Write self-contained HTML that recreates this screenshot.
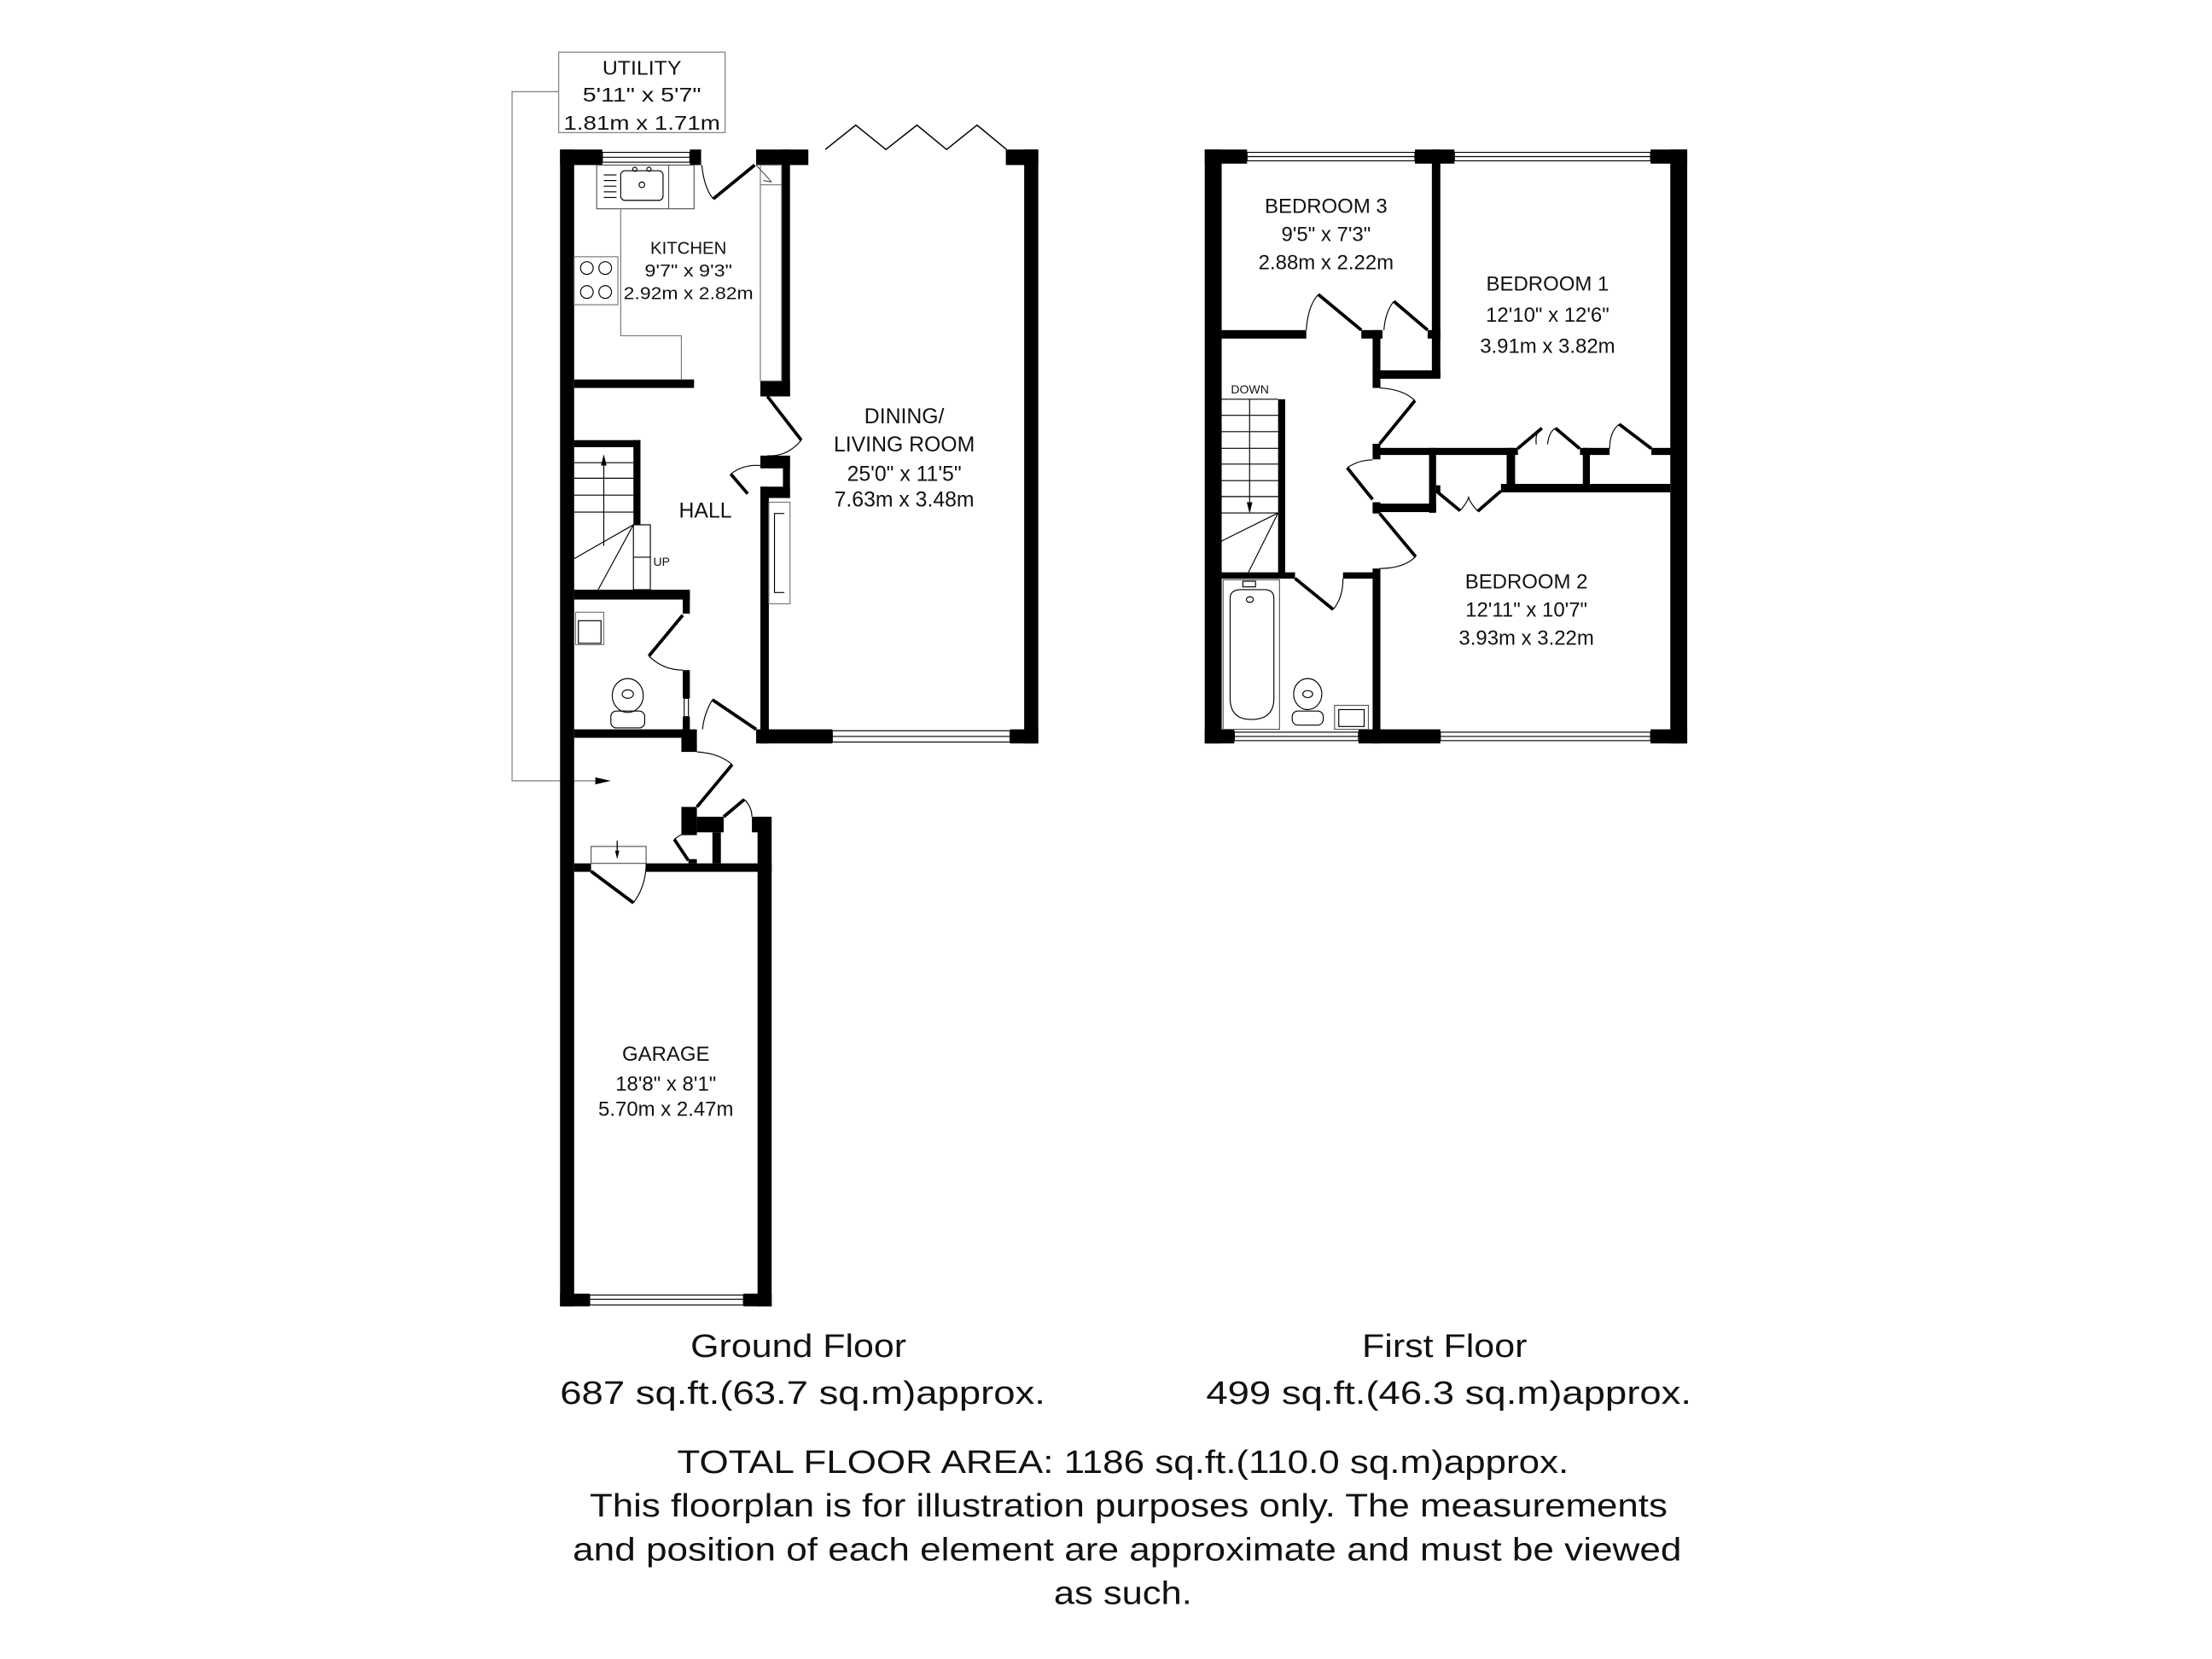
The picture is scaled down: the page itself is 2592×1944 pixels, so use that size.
<!DOCTYPE html>
<html><head><meta charset="utf-8"><style>
html,body{margin:0;padding:0;background:#fff;}
svg{display:block;}
text{font-family:"Liberation Sans",Arial,sans-serif;fill:#111;text-anchor:middle;}
.t{font-size:14px;}
.b{font-size:23px;}
</style></head><body>
<svg width="2592" height="1944" viewBox="0 0 1568 1176" xmlns="http://www.w3.org/2000/svg">
<rect width="1568" height="1176" fill="#fff"/>
<!-- ===== GROUND FLOOR ===== -->
<rect x="396" y="37" width="118" height="57" fill="none" stroke="#888" stroke-width="0.8"/>
<text class="t" x="455" y="53" textLength="56" lengthAdjust="spacingAndGlyphs">UTILITY</text>
<text class="t" x="455" y="72" textLength="84" lengthAdjust="spacingAndGlyphs">5'11" x 5'7"</text>
<text class="t" x="455" y="92" textLength="111" lengthAdjust="spacingAndGlyphs">1.81m x 1.71m</text>
<polyline points="396,65 363,65 363,553.5 425,553.5" fill="none" stroke="#888" stroke-width="0.8"/>
<polygon points="422,551 433,553.5 422,556" fill="#000"/>
<g fill="#000">
<rect x="397" y="106" width="10" height="820"/>
<rect x="397" y="106" width="30" height="11"/>
<rect x="489" y="106" width="8" height="11"/>
<rect x="536" y="106" width="37" height="11"/>
<rect x="713" y="106" width="23" height="11"/>
<rect x="726" y="106" width="10" height="421"/>
<rect x="536" y="517" width="54" height="10"/>
<rect x="716" y="517" width="20" height="10"/>
<rect x="554" y="106" width="6" height="175"/>
<rect x="539" y="270" width="21" height="11"/>
<rect x="539" y="323" width="21" height="9"/>
<rect x="555" y="323" width="5" height="30"/>
<rect x="539" y="345" width="21" height="8"/>
<rect x="539" y="323" width="5" height="8"/>
<rect x="539" y="345" width="6" height="182"/>
<rect x="407" y="269" width="85" height="6"/>
<rect x="407" y="312" width="47" height="5"/>
<rect x="449" y="312" width="5" height="60"/>
<rect x="407" y="418" width="82" height="7"/>
<rect x="484" y="418" width="5" height="17"/>
<rect x="484" y="475" width="5" height="20"/>
<rect x="484" y="508" width="5" height="10"/>
<rect x="407" y="517" width="80" height="6"/>
<rect x="483" y="517" width="11" height="16"/>
<rect x="483" y="572" width="11" height="20"/>
<rect x="494" y="579" width="19" height="11"/>
<rect x="505" y="590" width="6" height="22"/>
<rect x="533" y="579" width="13" height="11"/>
<rect x="537" y="579" width="10" height="347"/>
<rect x="488" y="609" width="6" height="3"/>
<rect x="407" y="612" width="12" height="6"/>
<rect x="458" y="612" width="89" height="6"/>
<rect x="397" y="917" width="21" height="9"/>
<rect x="527" y="917" width="20" height="9"/>
</g>
<g fill="none" stroke="#000" stroke-width="0.7">
<rect x="427" y="108" width="62" height="7"/><line x1="427" y1="111.5" x2="489" y2="111.5"/>
<rect x="590" y="518" width="126" height="8"/><line x1="590" y1="522" x2="716" y2="522"/>
<rect x="418" y="918" width="109" height="7"/><line x1="418" y1="921" x2="527" y2="921"/>
<rect x="423" y="117" width="69" height="31" stroke="#555"/>
<line x1="474" y1="117" x2="474" y2="148" stroke="#555"/>
<rect x="440" y="121" width="30" height="21" rx="3"/>
<circle cx="455" cy="131" r="2"/><circle cx="450" cy="120" r="1.5"/><circle cx="460" cy="120" r="1.5"/>
<line x1="428" y1="124" x2="437" y2="124"/><line x1="428" y1="128" x2="437" y2="128"/><line x1="428" y1="132" x2="437" y2="132"/><line x1="428" y1="136" x2="437" y2="136"/><line x1="428" y1="140" x2="437" y2="140"/>
<polyline points="440,148 440,238 483,238 483,269" stroke="#777"/>
<rect x="407" y="182" width="31" height="34" stroke="#777"/>
<circle cx="416" cy="190" r="4.5"/><circle cx="429" cy="190" r="4.5"/><circle cx="416" cy="207" r="4.5"/><circle cx="429" cy="207" r="4.5"/>
<rect x="539" y="117" width="15" height="153" stroke="#777"/>
<line x1="539" y1="131" x2="554" y2="131" stroke="#777"/>
<rect x="545" y="356" width="15" height="72" stroke="#777"/>
<polyline points="556,364 549,364 549,420 556,420" />
<line x1="407" y1="328" x2="449" y2="328"/><line x1="407" y1="339" x2="449" y2="339"/>
<line x1="407" y1="351" x2="449" y2="351"/><line x1="407" y1="363" x2="449" y2="363"/>
<rect x="449" y="372" width="12" height="46"/>
<line x1="449" y1="395" x2="461" y2="395"/>
<line x1="449" y1="372" x2="407" y2="396"/>
<line x1="449" y1="372" x2="424" y2="418"/>
<polyline points="428,387 428,330"/>
<rect x="408" y="434" width="20" height="23" stroke="#777"/>
<rect x="410" y="440" width="16" height="16"/>
<ellipse cx="445" cy="493" rx="11" ry="12"/><ellipse cx="445" cy="492" rx="4" ry="3"/>
<rect x="433" y="504" width="24" height="12" rx="4"/>
<rect x="485" y="495" width="3" height="13"/>
<rect x="419" y="600" width="39" height="12" stroke="#555"/>
<path d="M497.5,117 Q499,133 505.6,141"/>
<path d="M568,312 Q558,324 544,323"/>
<path d="M518,336 Q527,329 539,330"/>
<path d="M460,465 Q470,475 484,475"/>
<path d="M505,496 Q499,506 498,517"/>
<path d="M494,533 Q510,534 519,542"/>
<path d="M478,595 Q485,589 494,589"/>
<path d="M527.6,566.7 Q533,572 533,579"/>
<path d="M449,640 Q458,628 458,612"/>
<path d="M536,117 L547,129 M541,128 L547,129" stroke="#555"/>
<polyline points="585,106 606.6,88.7 628,106 650,88.7 671,106 692.6,88.7 713.5,106" stroke-width="0.9"/>
</g>
<polygon points="426,330 430,330 428,322" fill="#000"/>
<polygon points="436,603 439,603 437.5,609" fill="#000"/>
<line x1="437.5" y1="596" x2="437.5" y2="604" stroke="#000" stroke-width="0.8"/>
<g stroke="#000" stroke-width="2.3" fill="none">
<line x1="505.6" y1="141" x2="535" y2="117"/>
<line x1="544" y1="281" x2="568" y2="312"/>
<line x1="518" y1="336" x2="530" y2="350"/>
<line x1="484" y1="436" x2="460" y2="465"/>
<line x1="505" y1="496" x2="536" y2="517"/>
<line x1="519" y1="542" x2="494" y2="572"/>
<line x1="478" y1="595" x2="488" y2="610"/>
<line x1="513" y1="579" x2="527.6" y2="566.7"/>
<line x1="419" y1="617.6" x2="449" y2="640"/>
</g>
<text x="488" y="180" style="font-size:12.5px" textLength="54" lengthAdjust="spacingAndGlyphs">KITCHEN</text>
<text x="488" y="196" style="font-size:12.5px" textLength="62" lengthAdjust="spacingAndGlyphs">9'7" x 9'3"</text>
<text x="488" y="212" style="font-size:12.5px" textLength="92" lengthAdjust="spacingAndGlyphs">2.92m x 2.82m</text>
<text x="500" y="367" style="font-size:15px">HALL</text>
<text x="469" y="401" style="font-size:8.5px">UP</text>
<text x="641" y="300" style="font-size:15px">DINING/</text>
<text x="641" y="320" style="font-size:15px">LIVING ROOM</text>
<text x="641" y="341" style="font-size:15px">25'0" x 11'5"</text>
<text x="641" y="359" style="font-size:15px">7.63m x 3.48m</text>
<text x="472" y="752" style="font-size:14.5px">GARAGE</text>
<text x="472" y="773" style="font-size:14.5px">18'8" x 8'1"</text>
<text x="472" y="791" style="font-size:14.5px">5.70m x 2.47m</text>

<!-- ===== FIRST FLOOR ===== -->
<g fill="#000">
<rect x="854" y="106" width="12" height="421"/>
<rect x="1184" y="106" width="12" height="421"/>
<rect x="854" y="106" width="30" height="10"/>
<rect x="1003" y="106" width="28" height="10"/>
<rect x="1170" y="106" width="26" height="10"/>
<rect x="854" y="517" width="21" height="10"/>
<rect x="963" y="517" width="58" height="10"/>
<rect x="1170" y="517" width="26" height="10"/>
<rect x="1015" y="106" width="6" height="162"/>
<rect x="866" y="234" width="60" height="6"/>
<rect x="965" y="234" width="15" height="6"/>
<rect x="1012" y="234" width="9" height="6"/>
<rect x="973" y="234" width="5.5" height="41"/>
<rect x="973" y="262.5" width="48" height="6"/>
<rect x="973" y="314.6" width="5.5" height="11"/>
<rect x="978" y="317.5" width="98" height="5"/>
<rect x="1013" y="317.5" width="5" height="46"/>
<rect x="973" y="357" width="45" height="6"/>
<rect x="973" y="356" width="5.5" height="8"/>
<rect x="1068" y="317.5" width="6" height="31"/>
<rect x="1064" y="343" width="120" height="6"/>
<rect x="1120" y="317.5" width="21" height="5"/>
<rect x="1122" y="317.5" width="5" height="30"/>
<rect x="1170.6" y="317.5" width="14" height="5"/>
<rect x="1018" y="344" width="3" height="5"/>
<rect x="906" y="283" width="5" height="123"/>
<rect x="866" y="405.7" width="52" height="4.5"/>
<rect x="952" y="405.7" width="26" height="4.5"/>
<rect x="973" y="403" width="5.5" height="124"/>
</g>
<g fill="none" stroke="#000" stroke-width="0.7">
<rect x="884" y="108" width="119" height="6"/><line x1="884" y1="111" x2="1003" y2="111"/>
<rect x="1031" y="108" width="139" height="6"/><line x1="1031" y1="111" x2="1170" y2="111"/>
<rect x="875" y="519" width="88" height="6"/><line x1="875" y1="522" x2="963" y2="522"/>
<rect x="1021" y="519" width="149" height="6"/><line x1="1021" y1="522" x2="1170" y2="522"/>
<line x1="865" y1="294.4" x2="906" y2="294.4"/><line x1="865" y1="306" x2="906" y2="306"/>
<line x1="865" y1="317.8" x2="906" y2="317.8"/><line x1="865" y1="329" x2="906" y2="329"/>
<line x1="865" y1="340.7" x2="906" y2="340.7"/><line x1="865" y1="352" x2="906" y2="352"/>
<line x1="865" y1="363.6" x2="906" y2="363.6"/>
<line x1="865" y1="283" x2="906" y2="283"/>
<line x1="906" y1="363.6" x2="865" y2="384"/>
<line x1="906" y1="363.6" x2="885" y2="405.7"/>
<line x1="885.8" y1="283" x2="885.8" y2="358"/>
<rect x="867" y="411" width="40" height="106" stroke="#555"/>
<path d="M872,424 Q872,418 880,418 L896,418 Q903,418 903,424 L903,495 Q903,510 887,510 Q872,510 872,495 Z"/>
<ellipse cx="886" cy="425" rx="2.5" ry="2"/>
<rect x="881" y="412" width="9" height="4"/>
<ellipse cx="927" cy="492" rx="10" ry="11"/><ellipse cx="927" cy="492" rx="3.5" ry="2.5"/>
<rect x="916" y="504" width="22" height="10" rx="4"/>
<rect x="946" y="500" width="24" height="17" stroke="#555"/>
<rect x="949" y="503" width="18" height="12"/>
<path d="M926,234 Q927,217 934.5,208.7"/>
<path d="M981,234 Q982,221 988,213.6"/>
<path d="M978,275 Q995,276 1003,284"/>
<path d="M955,331.6 Q963,326 973,326"/>
<path d="M1003.5,394.6 Q995,403 978,403"/>
<path d="M945,432 Q952,424 952,410"/>
<path d="M1093,303.5 Q1088,306 1089,315 M1102.6,303.5 Q1098,306 1097,315" />
<path d="M1147.8,300.7 Q1141,306 1141,318"/>
<path d="M1035,362 Q1041,355 1041,352 M1047.5,362.4 Q1041,355 1041,352"/>
</g>
<polygon points="883.8,356 887.8,356 885.8,364" fill="#000"/>
<g stroke="#000" stroke-width="2.3" fill="none">
<line x1="934.5" y1="208.7" x2="965" y2="234"/>
<line x1="988" y1="213.6" x2="1012" y2="234"/>
<line x1="1003" y1="284" x2="978" y2="314.6"/>
<line x1="955" y1="331.6" x2="973" y2="354"/>
<line x1="978" y1="364" x2="1003.5" y2="394.6"/>
<line x1="918" y1="410" x2="945" y2="432"/>
<polyline points="1075.8,318 1093,303.5"/>
<polyline points="1119.8,318 1102.6,303.5"/>
<line x1="1147.8" y1="300.7" x2="1170.6" y2="318"/>
<line x1="1018" y1="348" x2="1035" y2="362"/>
<line x1="1064" y1="348" x2="1047.5" y2="362.4"/>
</g>
<text x="886" y="279" style="font-size:8.5px">DOWN</text>
<text x="940" y="151" style="font-size:14.5px">BEDROOM 3</text>
<text x="940" y="171" style="font-size:14.5px">9'5" x 7'3"</text>
<text x="940" y="191" style="font-size:14.5px">2.88m x 2.22m</text>
<text x="1097" y="206" style="font-size:14.5px">BEDROOM 1</text>
<text x="1097" y="228" style="font-size:14.5px">12'10" x 12'6"</text>
<text x="1097" y="250" style="font-size:14.5px">3.91m x 3.82m</text>
<text x="1082" y="417" style="font-size:14.5px">BEDROOM 2</text>
<text x="1082" y="437" style="font-size:14.5px">12'11" x 10'7"</text>
<text x="1082" y="457" style="font-size:14.5px">3.93m x 3.22m</text>

<text class="b" x="566" y="962" textLength="153" lengthAdjust="spacingAndGlyphs">Ground Floor</text>
<text class="b" x="569" y="995" textLength="344" lengthAdjust="spacingAndGlyphs">687 sq.ft.(63.7 sq.m)approx.</text>
<text class="b" x="1024" y="962" textLength="117" lengthAdjust="spacingAndGlyphs">First Floor</text>
<text class="b" x="1027" y="995" textLength="344" lengthAdjust="spacingAndGlyphs">499 sq.ft.(46.3 sq.m)approx.</text>
<text class="b" x="796" y="1044" textLength="632" lengthAdjust="spacingAndGlyphs">TOTAL FLOOR AREA: 1186 sq.ft.(110.0 sq.m)approx.</text>
<text class="b" x="800" y="1075" textLength="764" lengthAdjust="spacingAndGlyphs">This floorplan is for illustration purposes only. The measurements</text>
<text class="b" x="799" y="1106" textLength="786" lengthAdjust="spacingAndGlyphs">and position of each element are approximate and must be viewed</text>
<text class="b" x="796" y="1137" textLength="98" lengthAdjust="spacingAndGlyphs">as such.</text>
</svg>
</body></html>
